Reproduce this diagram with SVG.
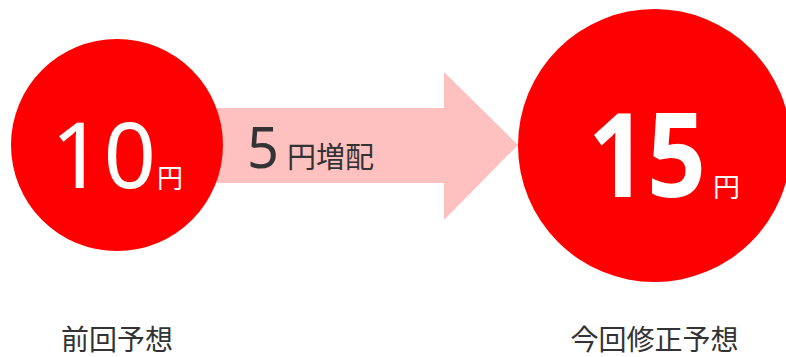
<svg xmlns="http://www.w3.org/2000/svg" width="786" height="357" viewBox="0 0 786 357">
<style>
.circ{fill:#ff0000}
.wt{fill:#ffffff;font-family:"Noto Sans","Noto Sans CJK JP",sans-serif}
.lbl{fill:#333333;font-family:"Noto Sans","Noto Sans CJK JP",sans-serif}
</style>
<rect width="786" height="357" fill="#ffffff"/>
<g id="connectors">
<polygon points="200,108 444,108 444,72 518,145 444,220 444,183 200,183" fill="#ffc0c0"/>
<text class="lbl" x="247" y="168" font-size="56">5</text>
<text class="lbl" x="287" y="168" font-size="29">円増配</text>
</g>
<g id="node-prev">
<circle class="circ" cx="117" cy="145" r="106"/>
<text class="wt" x="51" y="188" font-size="92">10</text>
<text class="wt" x="157" y="188" font-size="26">円</text>
<text class="lbl" x="117" y="350" font-size="28" text-anchor="middle">前回予想</text>
</g>
<g id="node-new">
<circle class="circ" cx="654.5" cy="145.5" r="136.5"/>
<text class="wt" x="588" y="197" font-size="116" font-weight="bold" textLength="118" lengthAdjust="spacingAndGlyphs">15</text>
<text class="wt" x="713" y="197" font-size="27">円</text>
<text class="lbl" x="654.5" y="350" font-size="28" text-anchor="middle">今回修正予想</text>
</g>
</svg>
